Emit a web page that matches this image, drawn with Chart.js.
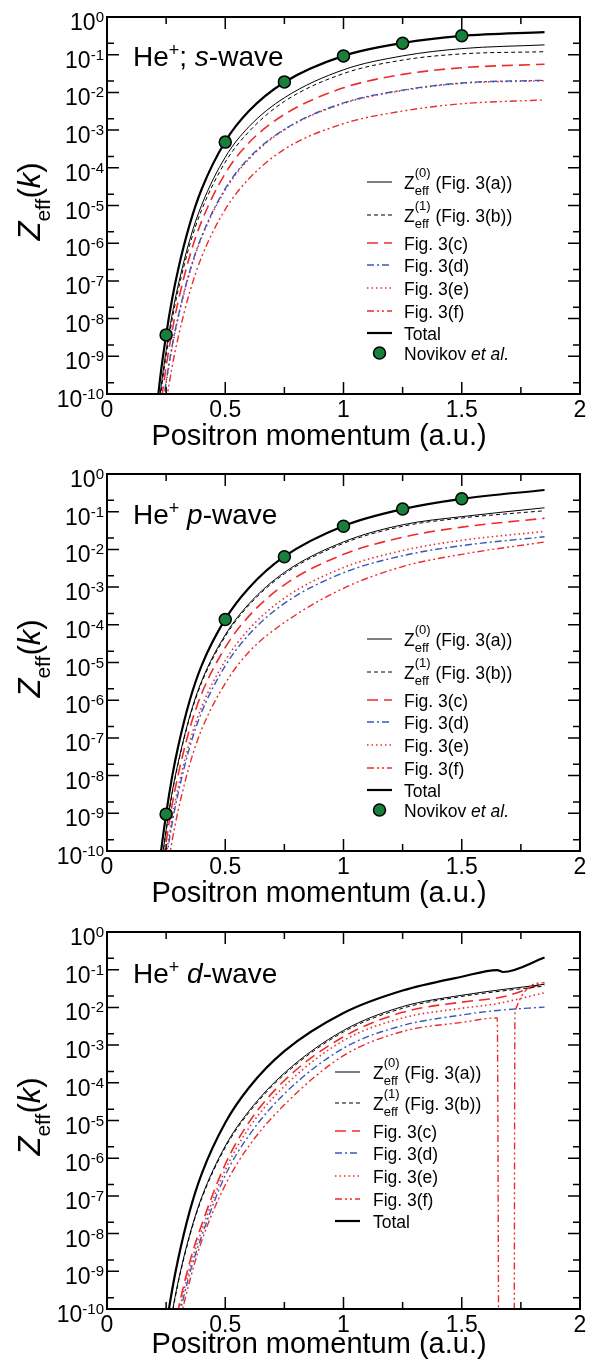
<!DOCTYPE html>
<html>
<head>
<meta charset="utf-8">
<script src="https://cdn.jsdelivr.net/npm/chart.js@4.4.1/dist/chart.umd.min.js"></script>
<style>
  html, body { margin: 0; padding: 0; background: #fff; overflow: hidden; }
  canvas { display: block; }
</style>
</head>
<body>
<canvas id="sWave" width="594" height="457"></canvas>
<canvas id="pWave" width="594" height="457"></canvas>
<canvas id="dWave" width="594" height="450"></canvas>
<script>
// === DATA ===
// positron momentum grids (a.u.)
const momentumSP = [0.2, 0.225, 0.25, 0.275, 0.3, 0.35, 0.4, 0.5, 0.6, 0.75, 1.0, 1.25, 1.5, 1.85];
const momentumD = [0.2, 0.225, 0.25, 0.275, 0.3, 0.35, 0.4, 0.5, 0.6, 0.75, 1.0, 1.25, 1.5, 1.65, 1.66, 1.675, 1.7, 1.72, 1.725, 1.85];

// s-wave
const sFig3a = [3.5e-12, 1.02e-10, 1.41e-9, 1.23e-8, 7.2e-8, 1.23e-6, 1.02e-5, 1.91e-4, 1.23e-3, 7.2e-3, 3.98e-2, 9.3e-2, 0.145, 0.182];
const sFig3b = [2.6e-12, 7.6e-11, 1.05e-9, 9.1e-9, 5.4e-8, 9.1e-7, 7.6e-6, 1.41e-4, 9.1e-4, 5.75e-3, 3.16e-2, 7.2e-2, 0.105, 0.120];
const sFig3c = [1.32e-12, 3.8e-11, 5.25e-10, 4.6e-9, 2.7e-8, 4.6e-7, 3.8e-6, 7.1e-5, 4.6e-4, 2.6e-3, 1.32e-2, 3.0e-2, 4.5e-2, 5.6e-2];
const sFig3d = [5.25e-13, 1.51e-11, 2.1e-10, 1.82e-9, 1.07e-8, 1.82e-7, 1.51e-6, 2.8e-5, 1.82e-4, 1.05e-3, 5.25e-3, 1.15e-2, 1.78e-2, 2.1e-2];
const sFig3e = [4.9e-13, 1.41e-11, 1.95e-10, 1.70e-9, 1.0e-8, 1.70e-7, 1.41e-6, 2.6e-5, 1.70e-4, 1.02e-3, 5.1e-3, 1.12e-2, 1.74e-2, 2.04e-2];
const sFig3f = [1.48e-13, 4.3e-12, 5.9e-11, 5.1e-10, 3.0e-9, 5.1e-8, 4.3e-7, 7.9e-6, 5.1e-5, 3.1e-4, 1.48e-3, 3.2e-3, 5.0e-3, 6.3e-3];
const sTotal = [9.3e-12, 2.7e-10, 3.7e-9, 3.2e-8, 1.9e-7, 3.2e-6, 2.7e-5, 5.0e-4, 3.2e-3, 1.86e-2, 9.3e-2, 0.204, 0.316, 0.398];

// p-wave
const pFig3a = [7.6e-13, 2.4e-11, 3.6e-10, 3.5e-9, 2.1e-8, 3.8e-7, 3.2e-6, 5.4e-5, 3.6e-4, 2.45e-3, 1.58e-2, 4.5e-2, 7.4e-2, 0.127];
const pFig3b = [6.9e-13, 2.2e-11, 3.3e-10, 3.2e-9, 1.95e-8, 3.5e-7, 2.9e-6, 4.9e-5, 3.3e-4, 2.24e-3, 1.45e-2, 4.1e-2, 6.8e-2, 0.106];
const pFig3c = [3.5e-13, 1.12e-11, 1.70e-10, 1.62e-9, 1.0e-8, 1.78e-7, 1.48e-6, 2.5e-5, 1.70e-4, 1.15e-3, 7.4e-3, 2.1e-2, 3.9e-2, 6.7e-2];
const pFig3d = [1.15e-13, 3.6e-12, 5.5e-11, 5.25e-10, 3.2e-9, 5.75e-8, 4.8e-7, 8.1e-6, 5.5e-5, 3.7e-4, 2.4e-3, 6.8e-3, 1.26e-2, 2.16e-2];
const pFig3e = [1.58e-13, 5.0e-12, 7.6e-11, 7.2e-10, 4.5e-9, 7.9e-8, 6.6e-7, 1.12e-5, 7.6e-5, 5.1e-4, 3.3e-3, 9.3e-3, 1.74e-2, 3.0e-2];
const pFig3f = [4.0e-14, 1.26e-12, 1.9e-11, 1.82e-10, 1.12e-9, 2.0e-8, 1.66e-7, 2.8e-6, 1.9e-5, 1.15e-4, 9.3e-4, 3.5e-3, 7.4e-3, 1.57e-2];
const pTotal = [2.0e-12, 6.3e-11, 9.5e-10, 9.1e-9, 5.6e-8, 1.0e-6, 8.3e-6, 1.41e-4, 9.5e-4, 6.5e-3, 4.2e-2, 0.117, 0.219, 0.376];

// d-wave (null = no point at that momentum)
const dFig3a = [1.41e-14, 4.7e-13, 7.6e-12, 7.6e-11, 5.0e-10, 9.5e-9, 9.1e-8, 2.1e-6, 1.78e-5, 1.82e-4, 2.45e-3, 1.05e-2, 2.1e-2, null, null, null, null, null, null, 4.1e-2];
const dFig3b = [1.29e-14, 4.3e-13, 6.9e-12, 6.9e-11, 4.6e-10, 8.7e-9, 8.3e-8, 1.91e-6, 1.62e-5, 1.66e-4, 2.24e-3, 9.5e-3, 1.95e-2, null, null, null, null, null, null, 3.7e-2];
const dFig3c = [2.5e-15, 8.3e-14, 1.35e-12, 1.35e-11, 8.9e-11, 1.78e-9, 1.70e-8, 6.9e-7, 8.9e-6, 1.15e-4, 1.66e-3, 7.4e-3, 1.38e-2, 1.78e-2, null, null, 2.1e-2, null, null, 4.5e-2];
const dFig3d = [1.26e-15, 4.2e-14, 6.8e-13, 6.8e-12, 4.5e-11, 8.9e-10, 8.5e-9, 3.5e-7, 4.0e-6, 5.1e-5, 8.3e-4, 3.3e-3, 6.3e-3, 8.3e-3, null, null, null, null, null, 1.02e-2];
const dFig3e = [1.78e-15, 5.9e-14, 9.5e-13, 9.5e-12, 6.3e-11, 1.26e-9, 1.20e-8, 4.9e-7, 6.3e-6, 8.1e-5, 1.32e-3, 5.25e-3, 9.5e-3, 1.26e-2, null, null, null, null, null, 2.45e-2];
const dFig3f = [7.9e-16, 2.6e-14, 4.3e-13, 4.3e-12, 2.8e-11, 5.6e-10, 6.3e-9, 1.95e-7, 2.1e-6, 2.6e-5, 5.25e-4, 2.3e-3, 4.0e-3, 5.25e-3, 1e-16, null, 1e-16, 1e-16, 7.8e-3, 4.5e-2];
const dTotal = [6.3e-14, 2.0e-12, 3.2e-11, 3.1e-10, 2.0e-9, 4.0e-8, 3.8e-7, 8.7e-6, 7.4e-5, 6.9e-4, 7.1e-3, 2.8e-2, 6.5e-2, 9.8e-2, null, 8.7e-2, null, null, null, 0.21];

// Novikov et al. points
const novikovK = [0.25, 0.5, 0.75, 1.0, 1.25, 1.5];
const novikovS = [3.7e-9, 4.8e-4, 1.9e-2, 9.3e-2, 0.20, 0.32];
const novikovP = [9.5e-10, 1.38e-4, 6.4e-3, 4.1e-2, 0.118, 0.22];

// axis ticks
const xTicks = [0, 0.5, 1, 1.5, 2];
const yTickExponents = [0, -1, -2, -3, -4, -5, -6, -7, -8, -9, -10];

// === STYLE ===
const FONT = "'Liberation Sans', Arial, Helvetica, sans-serif";
const RED = '#ee2b2b';
const BLUE = '#3658b9';
const GREEN = '#17803b';

const LINES = {
  a: { label: 'Zeff(0) (Fig. 3(a))', color: '#000', width: 1, dash: [],
       rich: [{ t: 'Z' }, { sup: '(0)', sub: 'eff' }, { t: ' (Fig. 3(a))' }] },
  b: { label: 'Zeff(1) (Fig. 3(b))', color: '#000', width: 1, dash: [4, 3],
       rich: [{ t: 'Z' }, { sup: '(1)', sub: 'eff' }, { t: ' (Fig. 3(b))' }] },
  c: { label: 'Fig. 3(c)', color: RED, width: 1.6, dash: [11, 6] },
  d: { label: 'Fig. 3(d)', color: BLUE, width: 1.4, dash: [7, 3, 2, 3] },
  e: { label: 'Fig. 3(e)', color: RED, width: 1.6, dash: [1.5, 3] },
  f: { label: 'Fig. 3(f)', color: RED, width: 1.4, dash: [7, 3, 2, 3, 2, 3] },
  total: { label: 'Total', color: '#000', width: 2.2, dash: [] }
};

function pairs(xs, ys) {
  return xs.map((x, i) => ({ x: x, y: ys[i] }));
}

function lineSet(key, xs, ys, rank) {
  const s = LINES[key];
  return {
    type: 'line', label: s.label, rich: s.rich, rank: rank,
    data: pairs(xs, ys),
    borderColor: s.color, borderWidth: s.width, borderDash: s.dash,
    pointRadius: 0, fill: false, spanGaps: true,
    cubicInterpolationMode: 'monotone'
  };
}

function novikovSet(ys) {
  return {
    type: 'scatter', label: 'Novikov et al.', rank: 7,
    rich: [{ t: 'Novikov ' }, { t: 'et al.', it: true }],
    data: pairs(novikovK, ys),
    backgroundColor: GREEN, borderColor: '#000', borderWidth: 1.5,
    pointRadius: 6, showLine: false
  };
}

// text made of runs: plain, italic, raised/lowered, or a stacked sup/sub pair
function runs(ctx, x, y, list, size, draw) {
  for (const r of list) {
    if (r.sup !== undefined) {
      const s = Math.round(size * 0.77);
      ctx.font = s + 'px ' + FONT;
      if (draw) {
        ctx.fillText(r.sup, x, y - size * 0.66);
        ctx.fillText(r.sub, x, y + size * 0.35);
      }
      x += Math.max(ctx.measureText(r.sup).width, ctx.measureText(r.sub).width);
    } else {
      ctx.font = (r.it ? 'italic ' : '') + (r.size || size) + 'px ' + FONT;
      if (draw) ctx.fillText(r.t, x, y + (r.dy || 0));
      x += ctx.measureText(r.t).width;
    }
  }
  return x;
}

// frame, inward ticks, y labels, axis titles, panel caption and legend
const decor = {
  id: 'decor',
  afterDraw(chart, args, o) {
    const ctx = chart.ctx, area = chart.chartArea;
    const xs = chart.scales.x, ys = chart.scales.y;
    ctx.save();
    ctx.strokeStyle = '#000';
    ctx.fillStyle = '#000';
    ctx.textAlign = 'left';
    ctx.textBaseline = 'alphabetic';

    ctx.lineWidth = 1.5;
    ctx.setLineDash([]);
    ctx.beginPath();
    for (let i = 0; i < xTicks.length; i++) {
      const vals = [[xTicks[i], 12]];
      if (i < xTicks.length - 1) vals.push([(xTicks[i] + xTicks[i + 1]) / 2, 7]);
      for (const [v, len] of vals) {
        const px = xs.getPixelForValue(v);
        ctx.moveTo(px, area.bottom); ctx.lineTo(px, area.bottom - len);
        ctx.moveTo(px, area.top); ctx.lineTo(px, area.top + len);
      }
    }
    for (const e of yTickExponents) {
      const marks = [[Math.pow(10, e), 12]];
      if (e < 0) marks.push([2 * Math.pow(10, e), 7]);
      for (const [v, len] of marks) {
        const py = ys.getPixelForValue(v);
        ctx.moveTo(area.left, py); ctx.lineTo(area.left + len, py);
        ctx.moveTo(area.right, py); ctx.lineTo(area.right - len, py);
      }
    }
    ctx.stroke();
    ctx.lineWidth = 2;
    ctx.strokeRect(area.left, area.top, area.right - area.left, area.bottom - area.top);

    // decade labels 10^n
    for (const e of yTickExponents) {
      const py = ys.getPixelForValue(Math.pow(10, e));
      const exp = e === 0 ? '0' : '-' + Math.abs(e);
      ctx.font = '23px ' + FONT;
      const wBase = ctx.measureText('10').width;
      ctx.font = '15px ' + FONT;
      const wExp = ctx.measureText(exp).width;
      const x0 = area.left - 3 - wBase - wExp;
      ctx.font = '23px ' + FONT;
      ctx.fillText('10', x0, py + 13);
      ctx.font = '15px ' + FONT;
      ctx.fillText(exp, x0 + wBase, py + 5);
    }

    // x axis title
    ctx.font = '29px ' + FONT;
    ctx.textAlign = 'center';
    ctx.textBaseline = 'middle';
    ctx.fillText('Positron momentum (a.u.)', 319, area.bottom + o.titleDy);
    ctx.textAlign = 'left';
    ctx.textBaseline = 'alphabetic';

    // y axis title Zeff(k)
    const title = [{ t: 'Z', it: true }, { t: 'eff', size: 21, dy: 10 }, { t: '(' }, { t: 'k', it: true }, { t: ')' }];
    ctx.save();
    ctx.translate(40, (area.top + area.bottom) / 2 - 4);
    ctx.rotate(-Math.PI / 2);
    const tw = runs(ctx, 0, 0, title, 31, false);
    runs(ctx, -tw / 2, 0, title, 31, true);
    ctx.restore();

    // caption
    runs(ctx, o.caption.x, area.top + o.caption.dy, o.caption.text, 28, true);

    // legend
    const lg = o.legend;
    const sets = chart.data.datasets.slice().sort((a, b) => a.rank - b.rank);
    sets.forEach((ds, i) => {
      const y = area.top + lg.rows[i];
      if (ds.showLine === false) {
        ctx.beginPath();
        ctx.arc((lg.x0 + lg.x1) / 2, y, ds.pointRadius, 0, Math.PI * 2);
        ctx.fillStyle = ds.backgroundColor;
        ctx.fill();
        ctx.lineWidth = ds.borderWidth;
        ctx.setLineDash([]);
        ctx.stroke();
      } else {
        ctx.beginPath();
        ctx.moveTo(lg.x0, y); ctx.lineTo(lg.x1, y);
        ctx.strokeStyle = ds.borderColor;
        ctx.lineWidth = ds.borderWidth;
        ctx.setLineDash(ds.borderDash);
        ctx.stroke();
      }
      ctx.strokeStyle = '#000';
      ctx.fillStyle = '#000';
      runs(ctx, lg.text, y + 7, ds.rich || [{ t: ds.label }], 17.5, true);
    });
    ctx.restore();
  }
};

function panel(id, datasets, caption, legend, top, titleDy) {
  const canvas = document.getElementById(id);
  return new Chart(canvas, {
    data: { datasets: datasets },
    plugins: [decor],
    options: {
      responsive: false,
      animation: false,
      events: [],
      devicePixelRatio: 1,
      layout: { padding: { top: top, right: 14, left: 0, bottom: 0 } },
      plugins: {
        legend: { display: false },
        tooltip: { enabled: false },
        decor: { caption: caption, legend: legend, titleDy: titleDy }
      },
      scales: {
        x: {
          type: 'linear', min: 0, max: 2,
          grid: { display: false, drawTicks: false },
          border: { display: false },
          ticks: {
            stepSize: 0.5, padding: 3, color: '#000',
            font: { size: 23, family: FONT },
            callback: v => String(v)
          },
          afterFit: s => { s.height = canvas.height - top - 377; }
        },
        y: {
          type: 'logarithmic', min: 1e-10, max: 1,
          grid: { display: false, drawTicks: false },
          border: { display: false },
          ticks: { display: false },
          afterFit: s => { s.width = 107; }
        }
      }
    }
  });
}

const rowsFull = [165, 198, 226, 248, 271, 294, 316, 336];

panel('sWave', [
  novikovSet(novikovS),
  lineSet('total', momentumSP, sTotal, 6),
  lineSet('a', momentumSP, sFig3a, 0),
  lineSet('b', momentumSP, sFig3b, 1),
  lineSet('c', momentumSP, sFig3c, 2),
  lineSet('d', momentumSP, sFig3d, 3),
  lineSet('e', momentumSP, sFig3e, 4),
  lineSet('f', momentumSP, sFig3f, 5)
], {
  x: 133, dy: 49,
  text: [{ t: 'He' }, { t: '+', size: 18, dy: -10 }, { t: '; ' }, { t: 's', it: true }, { t: '-wave' }]
}, { x0: 367, x1: 392, text: 404, rows: rowsFull }, 17, 43);

panel('pWave', [
  novikovSet(novikovP),
  lineSet('total', momentumSP, pTotal, 6),
  lineSet('a', momentumSP, pFig3a, 0),
  lineSet('b', momentumSP, pFig3b, 1),
  lineSet('c', momentumSP, pFig3c, 2),
  lineSet('d', momentumSP, pFig3d, 3),
  lineSet('e', momentumSP, pFig3e, 4),
  lineSet('f', momentumSP, pFig3f, 5)
], {
  x: 133, dy: 50,
  text: [{ t: 'He' }, { t: '+', size: 18, dy: -10 }, { t: ' ' }, { t: 'p', it: true }, { t: '-wave' }]
}, { x0: 367, x1: 392, text: 404, rows: rowsFull }, 17, 43);

panel('dWave', [
  lineSet('total', momentumD, dTotal, 6),
  lineSet('a', momentumD, dFig3a, 0),
  lineSet('b', momentumD, dFig3b, 1),
  lineSet('c', momentumD, dFig3c, 2),
  lineSet('d', momentumD, dFig3d, 3),
  lineSet('e', momentumD, dFig3e, 4),
  lineSet('f', momentumD, dFig3f, 5)
], {
  x: 133, dy: 51,
  text: [{ t: 'He' }, { t: '+', size: 18, dy: -10 }, { t: ' ' }, { t: 'd', it: true }, { t: '-wave' }]
}, { x0: 335, x1: 360, text: 373, rows: [140, 171, 199, 221, 244, 267, 289] }, 18, 36);
</script>
</body>
</html>
